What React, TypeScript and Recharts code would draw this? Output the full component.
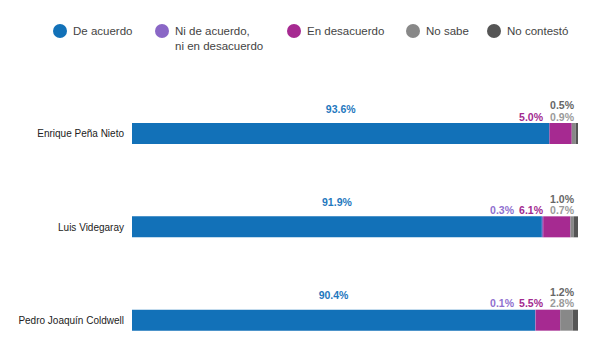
import React from "react"
import { BarChart, Bar, XAxis, YAxis, LabelList } from "recharts"

const candidates = ["Enrique Peña Nieto", "Luis Videgaray", "Pedro Joaquín Coldwell"]
const deAcuerdo = [93.6, 91.9, 90.4]
const niDeAcuerdo = [0, 0.3, 0.1]
const enDesacuerdo = [5.0, 6.1, 5.5]
const noSabe = [0.9, 0.7, 2.8]
const noContesto = [0.5, 1.0, 1.2]

const series = [
  { key: "deAcuerdo", name: "De acuerdo", color: "#1271b8", text: "#1f78be" },
  { key: "niDeAcuerdo", name: "Ni de acuerdo,\nni en desacuerdo", color: "#8a67c6", text: "#8f6fcf" },
  { key: "enDesacuerdo", name: "En desacuerdo", color: "#a62a91", text: "#a22a8f" },
  { key: "noSabe", name: "No sabe", color: "#888888", text: "#9a9a9a" },
  { key: "noContesto", name: "No contestó", color: "#555555", text: "#666666" },
]

const data = candidates.map((name, i) => ({
  name,
  deAcuerdo: deAcuerdo[i],
  niDeAcuerdo: niDeAcuerdo[i],
  enDesacuerdo: enDesacuerdo[i],
  noSabe: noSabe[i],
  noContesto: noContesto[i],
}))

const WIDTH = 595
const HEIGHT = 380
const MARGIN = { top: 87, right: 17, bottom: 13, left: 0 }
const AXIS_W = 132
const PLOT_RIGHT = WIDTH - MARGIN.right
const FONT = "'Liberation Sans', Arial, Helvetica, sans-serif"
// left edge of each legend swatch
const LEGEND_X = [53, 155, 287, 406, 487]

const fmt = (v: number) => `${v.toFixed(1)}%`

// label placement: main segment centred above, the small ones stacked near the bar end
function makeLabel(kind: string, color: string) {
  // eslint-disable-next-line @typescript-eslint/no-explicit-any
  return function SegmentLabel(props: any) {
    const { x, y, width, value } = props
    const v = Number(value)
    if (!v) return null
    let tx = PLOT_RIGHT - 4
    let ty = Number(y) - 2.4
    let anchor: "middle" | "end" = "end"
    if (kind === "deAcuerdo") {
      tx = Number(x) + Number(width) / 2
      ty = Number(y) - 10.5
      anchor = "middle"
    } else if (kind === "niDeAcuerdo") {
      tx = PLOT_RIGHT - 64
    } else if (kind === "enDesacuerdo") {
      tx = PLOT_RIGHT - 35
    } else if (kind === "noContesto") {
      ty = Number(y) - 13.6
    }
    return (
      <text
        x={tx}
        y={ty}
        textAnchor={anchor}
        fill={color}
        fontSize={10.5}
        fontWeight="bold"
        fontFamily={FONT}
      >
        {fmt(v)}
      </text>
    )
  }
}

// eslint-disable-next-line @typescript-eslint/no-explicit-any
function CandidateTick(props: any) {
  const { x, y, payload } = props
  return (
    <text
      x={x}
      y={y}
      dy={3.5}
      textAnchor="end"
      fill="#222"
      fontSize={10}
      fontFamily={FONT}
    >
      {payload.value}
    </text>
  )
}

function LegendRow() {
  return (
    <div
      style={{
        position: "absolute",
        left: 0,
        top: 24,
        fontFamily: FONT,
        fontSize: 11.5,
        lineHeight: "14.5px",
        color: "#444",
      }}
    >
      {series.map((s, i) => (
        <div
          key={s.key}
          style={{ position: "absolute", left: LEGEND_X[i], top: 0, display: "flex", alignItems: "flex-start" }}
        >
          <span
            style={{
              width: 14,
              height: 14,
              borderRadius: 7,
              background: s.color,
              marginRight: 6,
              flexShrink: 0,
            }}
          />
          <span style={{ whiteSpace: "pre" }}>{s.name}</span>
        </div>
      ))}
    </div>
  )
}

export default function App() {
  return (
    <div
      style={{
        position: "absolute",
        left: 0,
        top: 0,
        width: 595,
        height: 363,
        overflow: "hidden",
        background: "#fff",
      }}
    >
      <LegendRow />
      <BarChart
        width={WIDTH}
        height={HEIGHT}
        data={data}
        layout="vertical"
        margin={MARGIN}
        barSize={21}
      >
        <XAxis type="number" domain={[0, 100]} hide />
        <YAxis
          type="category"
          dataKey="name"
          width={AXIS_W}
          axisLine={false}
          tickLine={false}
          tick={<CandidateTick />}
        />
        {series.map((s) => (
          <Bar
            key={s.key}
            dataKey={s.key}
            stackId="a"
            fill={s.color}
            isAnimationActive={false}
          >
            <LabelList dataKey={s.key} content={makeLabel(s.key, s.text)} />
          </Bar>
        ))}
      </BarChart>
    </div>
  )
}
